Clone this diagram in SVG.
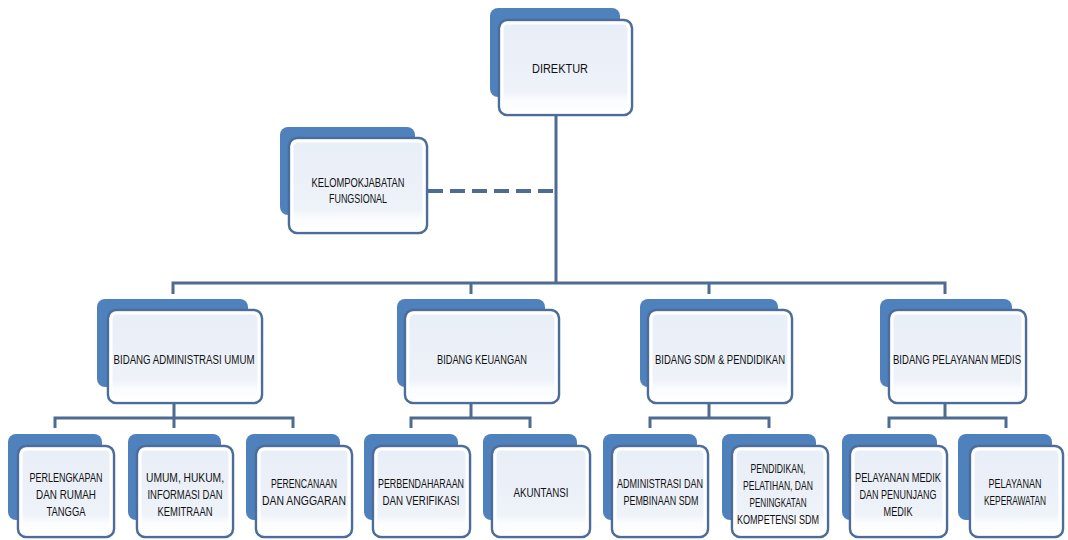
<svg xmlns="http://www.w3.org/2000/svg" width="1068" height="540" viewBox="0 0 1068 540">
<defs>
<linearGradient id="fg" x1="0" y1="0" x2="0" y2="1">
<stop offset="0" stop-color="#e8eef7"/>
<stop offset="0.75" stop-color="#eef2f9"/>
<stop offset="0.85" stop-color="#fbfcfe"/>
<stop offset="1" stop-color="#ffffff"/>
</linearGradient>
</defs>
<style>
.b{fill:#4f81bd}
.f{fill:url(#fg);stroke:#4c6d99;stroke-width:2.5}
.i{fill:none;stroke:#ffffff;stroke-width:3}
.t{font-family:"Liberation Sans",Arial,sans-serif;font-size:12px;fill:#111111;text-anchor:middle}
.c{fill:none;stroke:#4e6b91;stroke-width:3}
.d{fill:none;stroke:#4e6b91;stroke-width:4;stroke-dasharray:15 7}
</style>
<rect width="1068" height="540" fill="#ffffff"/>
<g id="connectors">
<path class="c" d="M556 115V283M173 294V283H945V294M471 283V294M709 283V294"/>
<path class="d" d="M428 191H556"/>
<path class="c" d="M174 403V418M55 428V418H293V428M174 418V428"/>
<path class="c" d="M471 403V418M411 428V418H530V428"/>
<path class="c" d="M709 403V418M650 428V418H769V428"/>
<path class="c" d="M945 403V418M889 428V418H1006V428"/>
</g>
<g id="direktur">
<rect class="b" x="490" y="8" width="130" height="89" rx="8"/>
<rect class="f" x="499" y="20" width="133" height="95" rx="8"/>
<rect class="i" x="502" y="23" width="127" height="89" rx="6"/>
<text class="t" x="560" y="73" textLength="56" lengthAdjust="spacingAndGlyphs">DIREKTUR</text>
</g>
<g id="kelompok">
<rect class="b" x="280" y="127" width="135" height="88" rx="8"/>
<rect class="f" x="289" y="138" width="138" height="95" rx="8"/>
<rect class="i" x="292" y="141" width="132" height="89" rx="6"/>
<text class="t" x="358" y="187" textLength="93" lengthAdjust="spacingAndGlyphs">KELOMPOKJABATAN</text>
<text class="t" x="358" y="203" textLength="58" lengthAdjust="spacingAndGlyphs">FUNGSIONAL</text>
</g>
<g id="bidang-admin">
<rect class="b" x="97" y="299" width="151" height="88" rx="8"/>
<rect class="f" x="108" y="310" width="154" height="93" rx="8"/>
<rect class="i" x="111" y="313" width="148" height="87" rx="6"/>
<text class="t" x="184" y="364" textLength="141" lengthAdjust="spacingAndGlyphs">BIDANG ADMINISTRASI UMUM</text>
</g>
<g id="bidang-keuangan">
<rect class="b" x="397" y="299" width="148" height="88" rx="8"/>
<rect class="f" x="405" y="310" width="154" height="93" rx="8"/>
<rect class="i" x="408" y="313" width="148" height="87" rx="6"/>
<text class="t" x="482" y="364" textLength="90" lengthAdjust="spacingAndGlyphs">BIDANG KEUANGAN</text>
</g>
<g id="bidang-sdm">
<rect class="b" x="640" y="299" width="138" height="88" rx="8"/>
<rect class="f" x="648" y="310" width="144" height="93" rx="8"/>
<rect class="i" x="651" y="313" width="138" height="87" rx="6"/>
<text class="t" x="720" y="364" textLength="130" lengthAdjust="spacingAndGlyphs">BIDANG SDM &amp; PENDIDIKAN</text>
</g>
<g id="bidang-medis">
<rect class="b" x="880" y="299" width="132" height="88" rx="8"/>
<rect class="f" x="889" y="310" width="137" height="93" rx="8"/>
<rect class="i" x="892" y="313" width="131" height="87" rx="6"/>
<text class="t" x="957" y="364" textLength="128" lengthAdjust="spacingAndGlyphs">BIDANG PELAYANAN MEDIS</text>
</g>
<g id="perlengkapan">
<rect class="b" x="8" y="434" width="94" height="86" rx="8"/>
<rect class="f" x="18" y="446" width="96" height="91" rx="8"/>
<rect class="i" x="21" y="449" width="90" height="85" rx="6"/>
<text class="t" x="66" y="482" textLength="73" lengthAdjust="spacingAndGlyphs">PERLENGKAPAN</text>
<text class="t" x="66" y="499" textLength="60" lengthAdjust="spacingAndGlyphs">DAN RUMAH</text>
<text class="t" x="66" y="516" textLength="39" lengthAdjust="spacingAndGlyphs">TANGGA</text>
</g>
<g id="umum">
<rect class="b" x="128" y="434" width="93" height="86" rx="8"/>
<rect class="f" x="137" y="446" width="96" height="91" rx="8"/>
<rect class="i" x="140" y="449" width="90" height="85" rx="6"/>
<text class="t" x="185" y="482" textLength="78" lengthAdjust="spacingAndGlyphs">UMUM, HUKUM,</text>
<text class="t" x="185" y="499" textLength="75" lengthAdjust="spacingAndGlyphs">INFORMASI DAN</text>
<text class="t" x="185" y="516" textLength="55" lengthAdjust="spacingAndGlyphs">KEMITRAAN</text>
</g>
<g id="perencanaan">
<rect class="b" x="246" y="434" width="94" height="86" rx="8"/>
<rect class="f" x="256" y="446" width="96" height="91" rx="8"/>
<rect class="i" x="259" y="449" width="90" height="85" rx="6"/>
<text class="t" x="304" y="488" textLength="66" lengthAdjust="spacingAndGlyphs">PERENCANAAN</text>
<text class="t" x="304" y="505" textLength="84" lengthAdjust="spacingAndGlyphs">DAN ANGGARAN</text>
</g>
<g id="perbendaharaan">
<rect class="b" x="364" y="434" width="94" height="86" rx="8"/>
<rect class="f" x="373" y="446" width="97" height="91" rx="8"/>
<rect class="i" x="376" y="449" width="91" height="85" rx="6"/>
<text class="t" x="421" y="488" textLength="86" lengthAdjust="spacingAndGlyphs">PERBENDAHARAAN</text>
<text class="t" x="421" y="505" textLength="77" lengthAdjust="spacingAndGlyphs">DAN VERIFIKASI</text>
</g>
<g id="akuntansi">
<rect class="b" x="483" y="434" width="94" height="86" rx="8"/>
<rect class="f" x="492" y="446" width="98" height="91" rx="8"/>
<rect class="i" x="495" y="449" width="92" height="85" rx="6"/>
<text class="t" x="541" y="497" textLength="55" lengthAdjust="spacingAndGlyphs">AKUNTANSI</text>
</g>
<g id="administrasi-sdm">
<rect class="b" x="603" y="434" width="94" height="86" rx="8"/>
<rect class="f" x="612" y="446" width="96" height="91" rx="8"/>
<rect class="i" x="615" y="449" width="90" height="85" rx="6"/>
<text class="t" x="660" y="488" textLength="86" lengthAdjust="spacingAndGlyphs">ADMINISTRASI DAN</text>
<text class="t" x="661" y="505" textLength="75" lengthAdjust="spacingAndGlyphs">PEMBINAAN SDM</text>
</g>
<g id="pendidikan">
<rect class="b" x="722" y="434" width="94" height="86" rx="8"/>
<rect class="f" x="732" y="446" width="96" height="91" rx="8"/>
<rect class="i" x="735" y="449" width="90" height="85" rx="6"/>
<text class="t" x="778" y="473" textLength="55" lengthAdjust="spacingAndGlyphs">PENDIDIKAN,</text>
<text class="t" x="778" y="490" textLength="70" lengthAdjust="spacingAndGlyphs">PELATIHAN, DAN</text>
<text class="t" x="778" y="507" textLength="57" lengthAdjust="spacingAndGlyphs">PENINGKATAN</text>
<text class="t" x="778" y="524" textLength="82" lengthAdjust="spacingAndGlyphs">KOMPETENSI SDM</text>
</g>
<g id="pelayanan-medik">
<rect class="b" x="842" y="434" width="95" height="86" rx="8"/>
<rect class="f" x="850" y="446" width="97" height="91" rx="8"/>
<rect class="i" x="853" y="449" width="91" height="85" rx="6"/>
<text class="t" x="898" y="482" textLength="86" lengthAdjust="spacingAndGlyphs">PELAYANAN MEDIK</text>
<text class="t" x="898" y="499" textLength="77" lengthAdjust="spacingAndGlyphs">DAN PENUNJANG</text>
<text class="t" x="898" y="516" textLength="29" lengthAdjust="spacingAndGlyphs">MEDIK</text>
</g>
<g id="keperawatan">
<rect class="b" x="958" y="434" width="94" height="86" rx="8"/>
<rect class="f" x="970" y="446" width="93" height="91" rx="8"/>
<rect class="i" x="973" y="449" width="87" height="85" rx="6"/>
<text class="t" x="1015" y="488" textLength="53" lengthAdjust="spacingAndGlyphs">PELAYANAN</text>
<text class="t" x="1015" y="505" textLength="62" lengthAdjust="spacingAndGlyphs">KEPERAWATAN</text>
</g>
</svg>
